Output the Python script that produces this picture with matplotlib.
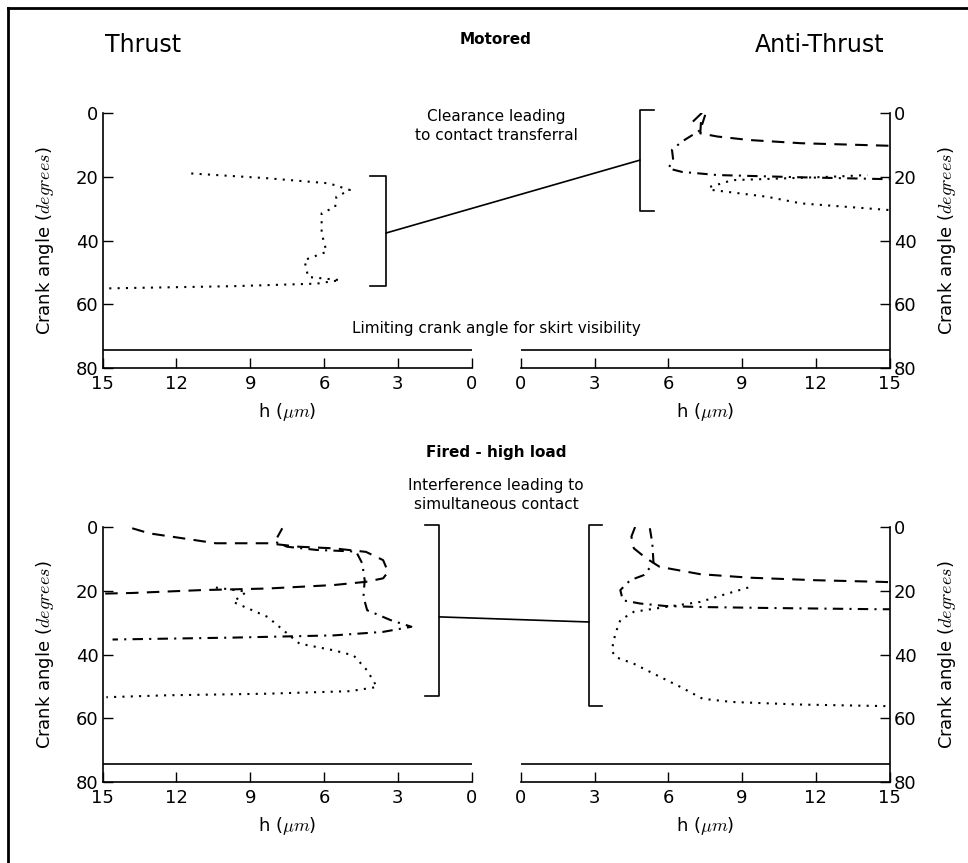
import numpy as np
import matplotlib
matplotlib.use("Agg")
import matplotlib.pyplot as plt
from matplotlib.lines import Line2D
from matplotlib.patches import ConnectionPatch

plt.rcParams['font.family'] = ['DejaVu Sans']
plt.rcParams['mathtext.fontset'] = 'cm'

# ---- data (h in micrometres, crank angle in degrees) ----
# Motored, thrust side
mot_thr_dot_h = [11.4, 8.3, 5.8, 4.95, 5.5, 5.55, 6.1, 6.1, 5.9, 6.8, 6.65, 5.35, 6.3, 9.7, 14.85]
mot_thr_dot_a = [18.9, 20.4, 22.0, 24.1, 26.2, 29.4, 31.4, 37.7, 43.5, 46.1, 51.4, 52.4, 53.5, 54.3, 55.0]

# Motored, anti-thrust side
mot_ant_dash_h = [7.0, 7.35, 7.3, 8.0, 9.3, 11.4, 15.0]
mot_ant_dash_a = [2.6, 0.0, 6.3, 7.3, 8.4, 9.4, 10.2]
mot_ant_dd_h = [7.5, 7.3, 6.55, 6.15, 6.2, 6.0, 6.55, 8.0, 11.4, 15.0]
mot_ant_dd_a = [0.5, 5.3, 8.9, 11.5, 14.7, 17.3, 18.4, 19.4, 20.1, 20.7]
mot_ant_dot1_h = [7.7, 8.6, 12.7, 14.1]
mot_ant_dot1_a = [23.1, 21.0, 19.9, 19.4]
mot_ant_dot2_h = [7.8, 10.0, 11.4, 15.0]
mot_ant_dot2_a = [24.1, 26.2, 28.3, 30.4]

# Fired, thrust side
fir_thr_dash_h = [13.8, 13.1, 11.7, 10.4, 8.3, 7.0, 5.6, 4.3, 3.6, 3.4, 3.6, 4.3, 5.6, 8.3, 11.0, 13.8, 15.0]
fir_thr_dash_a = [0.4, 2.0, 3.6, 5.1, 5.1, 6.2, 6.7, 7.8, 10.4, 14.1, 16.1, 17.2, 18.2, 19.3, 19.8, 20.7, 20.9]
fir_thr_dd_h = [7.7, 8.0, 7.5, 6.3, 4.7, 4.45, 4.35, 4.4, 4.25, 3.3, 2.45, 3.6, 5.6, 9.7, 14.6]
fir_thr_dd_a = [0.4, 4.6, 6.2, 7.2, 7.7, 11.4, 16.7, 21.9, 26.1, 29.2, 31.3, 32.9, 34.0, 34.7, 35.3]
fir_thr_dot_h = [10.4, 9.15, 9.7, 8.3, 7.5, 7.0, 5.6, 4.8, 4.25, 3.85, 4.95, 8.3, 12.4, 14.85]
fir_thr_dot_a = [19.0, 20.3, 23.5, 28.2, 33.4, 36.6, 38.7, 40.3, 45.0, 50.2, 51.5, 52.3, 52.8, 53.4]

# Fired, anti-thrust side
fir_ant_dash_h = [4.65, 4.5, 4.6, 5.1, 5.65, 7.3, 9.3, 12.0, 14.6, 15.0]
fir_ant_dash_a = [0.0, 3.0, 6.7, 9.8, 12.5, 14.8, 15.9, 16.7, 17.2, 17.3]
fir_ant_dd_h = [5.25, 5.35, 5.4, 5.0, 4.45, 4.05, 4.15, 4.85, 5.9, 7.3, 10.0, 14.6, 15.0]
fir_ant_dd_a = [0.4, 5.1, 11.4, 15.1, 16.7, 19.8, 23.0, 24.0, 24.8, 25.1, 25.4, 25.8, 25.8]
fir_ant_dot_h = [9.25, 8.4, 7.3, 5.9, 4.6, 4.05, 3.85, 3.7, 3.85, 4.6, 5.4, 6.5, 7.4, 8.6, 11.35, 14.9]
fir_ant_dot_a = [19.0, 20.9, 23.5, 25.1, 26.6, 29.2, 33.4, 38.7, 40.8, 42.9, 46.0, 50.2, 53.9, 54.9, 55.7, 56.2]

limit_angle = 74.5
h_ticks = [0, 3, 6, 9, 12, 15]
a_ticks = [0, 20, 40, 60, 80]

# brackets: (h of spine, h of arm ends, top angle, bottom angle, joint angle)
br_mot_thr = (3.48, 4.13, 19.6, 54.3, 37.6)
br_mot_ant = (4.85, 5.42, -1.0, 30.7, 14.7)
br_fir_thr = (1.32, 1.9, -0.6, 53.1, 28.2)
br_fir_ant = (2.78, 3.29, -0.6, 56.0, 29.8)

W, H = 968, 863
fig = plt.figure(figsize=(W / 100, H / 100), dpi=100)


def px(x0, y0, x1, y1):
    return [x0 / W, 1 - y1 / H, (x1 - x0) / W, (y1 - y0) / H]


ax_mt = fig.add_axes(px(102.7, 113.3, 471.7, 368))
ax_ma = fig.add_axes(px(520.7, 113.3, 889.7, 368))
ax_ft = fig.add_axes(px(102.7, 527, 471.7, 782))
ax_fa = fig.add_axes(px(520.7, 527, 889.7, 782))

lw = 1.5
dash = (0, (6, 4))
ddot = (0, (5, 3, 1, 3))
dots = (0, (1, 3))

ax_mt.plot(mot_thr_dot_h, mot_thr_dot_a, color='k', lw=lw, linestyle=dots)

ax_ma.plot(mot_ant_dash_h, mot_ant_dash_a, color='k', lw=lw, linestyle=dash)
ax_ma.plot(mot_ant_dd_h, mot_ant_dd_a, color='k', lw=lw, linestyle=ddot)
ax_ma.plot(mot_ant_dot1_h, mot_ant_dot1_a, color='k', lw=lw, linestyle=dots)
ax_ma.plot(mot_ant_dot2_h, mot_ant_dot2_a, color='k', lw=lw, linestyle=dots)

ax_ft.plot(fir_thr_dash_h, fir_thr_dash_a, color='k', lw=lw, linestyle=dash)
ax_ft.plot(fir_thr_dd_h, fir_thr_dd_a, color='k', lw=lw, linestyle=ddot)
ax_ft.plot(fir_thr_dot_h, fir_thr_dot_a, color='k', lw=lw, linestyle=dots)

ax_fa.plot(fir_ant_dash_h, fir_ant_dash_a, color='k', lw=lw, linestyle=dash)
ax_fa.plot(fir_ant_dd_h, fir_ant_dd_a, color='k', lw=lw, linestyle=ddot)
ax_fa.plot(fir_ant_dot_h, fir_ant_dot_a, color='k', lw=lw, linestyle=dots)

for ax, side in [(ax_mt, 'left'), (ax_ma, 'right'), (ax_ft, 'left'), (ax_fa, 'right')]:
    ax.set_ylim(80, 0)
    if side == 'left':
        ax.set_xlim(15, 0)
    else:
        ax.set_xlim(0, 15)
    ax.axhline(limit_angle, color='k', lw=1.2)
    ax.set_xticks(h_ticks)
    ax.set_yticks(a_ticks)
    ax.spines['top'].set_visible(False)
    other = 'right' if side == 'left' else 'left'
    ax.spines[other].set_visible(False)
    for s in ['bottom', side]:
        ax.spines[s].set_linewidth(1.2)
    ax.yaxis.set_ticks_position(side)
    ax.yaxis.set_label_position(side)
    ax.xaxis.set_ticks_position('bottom')
    ax.tick_params(direction='in', length=7, width=1, labelsize=13, pad=3)
    ax.tick_params(axis='x', pad=5)
    ax.set_xlabel(r'h ($\mu m$)', fontsize=13, labelpad=6)
    ax.set_ylabel(r'Crank angle ($degrees$)', fontsize=13, labelpad=14)


def bracket(ax, b):
    hs, he, a0, a1, aj = b
    ax.plot([he, hs, hs, he], [a0, a0, a1, a1], color='k', lw=1.2, clip_on=False)


for ax, b in [(ax_mt, br_mot_thr), (ax_ma, br_mot_ant), (ax_ft, br_fir_thr), (ax_fa, br_fir_ant)]:
    bracket(ax, b)

for a1, b1, a2, b2 in [(ax_mt, br_mot_thr, ax_ma, br_mot_ant), (ax_ft, br_fir_thr, ax_fa, br_fir_ant)]:
    con = ConnectionPatch(xyA=(b1[0], b1[4]), coordsA=a1.transData,
                          xyB=(b2[0], b2[4]), coordsB=a2.transData,
                          color='k', lw=1.2)
    fig.add_artist(con)

cx = 496 / W
fig.text(143 / W, 1 - 45 / H, 'Thrust', fontsize=17, ha='center', va='center')
fig.text(820 / W, 1 - 45 / H, 'Anti-Thrust', fontsize=17, ha='center', va='center')
fig.text(cx, 1 - 40 / H, 'Motored', fontsize=11, fontweight='bold', ha='center', va='center')
fig.text(cx, 1 - 126 / H, 'Clearance leading\nto contact transferral', fontsize=11,
         ha='center', va='center', linespacing=1.3)
fig.text(cx, 1 - 329 / H, 'Limiting crank angle for skirt visibility', fontsize=11,
         ha='center', va='center')
fig.text(cx, 1 - 452 / H, 'Fired - high load', fontsize=11, fontweight='bold', ha='center', va='center')
fig.text(cx, 1 - 495 / H, 'Interference leading to\nsimultaneous contact', fontsize=11,
         ha='center', va='center', linespacing=1.3)

# frame around the figure (only left and top edges are inside the picture)
fx, fy = 8 / W, 1 - 8 / H
fig.add_artist(Line2D([fx, fx], [0, fy], color='k', lw=2, transform=fig.transFigure))
fig.add_artist(Line2D([fx, 1], [fy, fy], color='k', lw=2, transform=fig.transFigure))

fig.savefig('out.png', dpi=100)
